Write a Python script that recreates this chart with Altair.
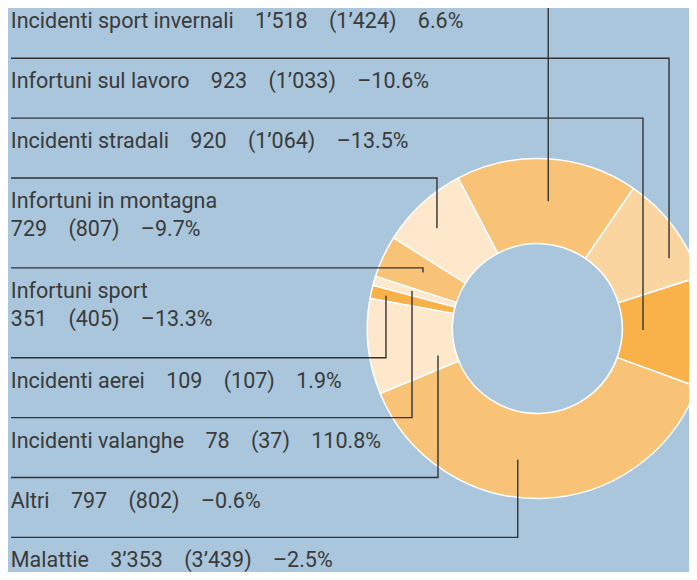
import math
import altair as alt
import pandas as pd

# ---------------- data ----------------
# labels, top to bottom as listed on the left
labels = ["Incidenti sport invernali", "Infortuni sul lavoro", "Incidenti stradali",
          "Infortuni in montagna", "Infortuni sport", "Incidenti aerei",
          "Incidenti valanghe", "Altri", "Malattie"]
current = [1518, 923, 920, 729, 351, 109, 78, 797, 3353]
previous = [1424, 1033, 1064, 807, 405, 107, 37, 802, 3439]
change_pct = [6.6, -10.6, -13.5, -9.7, -13.3, 1.9, 110.8, -0.6, -2.5]
label_lines = [1, 1, 1, 2, 2, 1, 1, 1, 1]

# slice order, clockwise
slice_order = ["Incidenti sport invernali", "Infortuni sul lavoro", "Incidenti stradali",
               "Malattie", "Altri", "Incidenti aerei", "Incidenti valanghe",
               "Infortuni sport", "Infortuni in montagna"]
slice_colors = ["#f8c377", "#fbd5a0", "#f9b24a", "#f8c377", "#fde8cc",
                "#f9b24a", "#fde8cc", "#f8c377", "#fde8cc"]

# where each leader meets its slice: fraction along the slice, radius
anchor_frac = [0.525, 0.72, 0.48, 0.43, 0.59, 0.39, 0.52, 0.21, 0.57]
anchor_rad = [128.5, 149.6, 105.7, 142.3, 127.6, 154.7, 130.6, 103.1, 133.5]

# ---------------- layout ----------------
W, H = 681, 564
X0, Y0 = 8, 8                     # page offset of the chart
CX, CY = 537.3, 328.5             # donut centre (page units)
R_IN, R_OUT = 85, 170
START_DEG = -27.8
ROW_UNIT = 29.95
FIRST_SEP = -1.7
LINE_LEFT = 11.7
TEXT_LEFT = 10.8
BASE_OFF = 30
LINE_H = 28
GAP = "\u00a0" * 4
BG = "#a9c6dc"
INK = "#333333"


def fmt(n):
    return f"{n:,}".replace(",", "\u2019")


def fmt_chg(c):
    return ("\u2013" if c < 0 else "") + f"{abs(c):.1f}%"


total = sum(current)
val = dict(zip(labels, current))
cum = {}
acc = 0
for c in slice_order:
    cum[c] = acc
    acc += val[c]

text_rows, lead_rows = [], []
units = 0
for i, lab in enumerate(labels):
    sep = FIRST_SEP + ROW_UNIT * units
    units += label_lines[i] + 1
    nums = f"{fmt(current[i])}{GAP}({fmt(previous[i])}){GAP}{fmt_chg(change_pct[i])}"
    if label_lines[i] == 1:
        lines = [f"{lab}{GAP}{nums}"]
    else:
        lines = [lab, nums]
    for j, t in enumerate(lines):
        text_rows.append({"text": t, "x": TEXT_LEFT, "y": sep + BASE_OFF + LINE_H * j})
    ang = math.radians(START_DEG + (cum[lab] + anchor_frac[i] * val[lab]) / total * 360)
    xe = CX + anchor_rad[i] * math.sin(ang)
    ye = CY - anchor_rad[i] * math.cos(ang)
    for k, (px, py) in enumerate([(LINE_LEFT, sep), (xe, sep), (xe, ye)]):
        lead_rows.append({"label": lab, "pt": k, "x": px, "y": py})

arc_df = pd.DataFrame({"category": slice_order,
                       "value": [val[c] for c in slice_order],
                       "k": list(range(len(slice_order)))})
text_df = pd.DataFrame(text_rows)
lead_df = pd.DataFrame(lead_rows)

xs = alt.Scale(domain=[X0, X0 + W], nice=False, zero=False)
ys = alt.Scale(domain=[Y0, Y0 + H], nice=False, zero=False, reverse=True)
start = math.radians(START_DEG)

arcs = alt.Chart(arc_df).mark_arc(
    innerRadius=R_IN, outerRadius=R_OUT, stroke="white", strokeWidth=1.5, clip=True
).encode(
    theta=alt.Theta("value:Q", stack=True, scale=alt.Scale(range=[start, start + 2 * math.pi])),
    order=alt.Order("k:Q", sort="ascending"),
    color=alt.Color("category:N", scale=alt.Scale(domain=slice_order, range=slice_colors), legend=None),
    x=alt.XDatum(CX, type="quantitative", scale=xs, axis=None),
    y=alt.YDatum(CY, type="quantitative", scale=ys, axis=None),
)

leads = alt.Chart(lead_df).mark_line(color=INK, strokeWidth=1.4, clip=True, strokeCap="square").encode(
    x=alt.X("x:Q", scale=xs, axis=None),
    y=alt.Y("y:Q", scale=ys, axis=None),
    detail="label:N",
    order=alt.Order("pt:Q"),
)

texts = alt.Chart(text_df).mark_text(
    align="left", baseline="alphabetic", font="Roboto", fontWeight=400,
    fontSize=21.5, color="#3a3a3a"
).encode(
    x=alt.X("x:Q", scale=xs, axis=None),
    y=alt.Y("y:Q", scale=ys, axis=None),
    text="text:N",
)

chart = alt.layer(arcs, leads, texts).properties(
    width=W, height=H, background=BG, padding=0,
    autosize=alt.AutoSizeParams(type="none"),
).configure_view(stroke=None)

chart.save("out.html", embed_options={"renderer": "svg", "actions": False})
